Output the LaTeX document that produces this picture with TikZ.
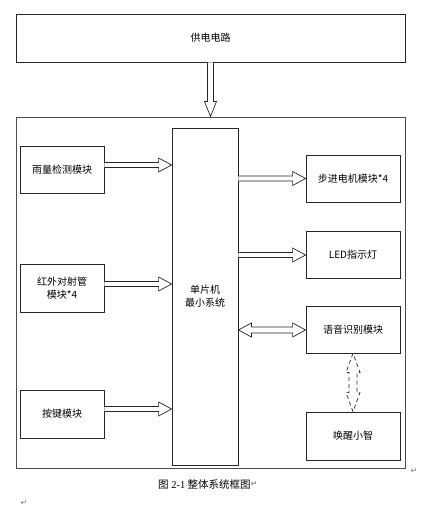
\documentclass[tikz,border=0pt]{standalone}
\usepackage{fontspec}
\setmainfont{Liberation Serif}
\newfontfamily\cjk{Noto Sans CJK SC}
\newfontfamily\symf{DejaVu Sans}
\usetikzlibrary{calc}
\tikzset{
  blk/.style={draw=black!85, line width=0.8pt, fill=white, inner sep=0pt, align=center,
    font=\cjk\fontsize{10}{13}\selectfont},
  hollow/.style={draw=black!85, line width=0.7pt, fill=white, line join=miter},
  dhollow/.style={hollow, dashed, dash pattern=on 4pt off 3pt},
  pmark/.style={text=black!55, font=\symf\fontsize{8}{8}\selectfont, inner sep=0pt}
}
% horizontal hollow arrow from #1 to #2 (same y)
\newcommand\hharrow[3][hollow]{%
  \draw[#1] ($(#2)+(0,-2.5)$) -- ($(#3)+(-13,-2.5)$) -- ($(#3)+(-13,-7)$) -- (#3)
    -- ($(#3)+(-13,7)$) -- ($(#3)+(-13,2.5)$) -- ($(#2)+(0,2.5)$);}
\begin{document}
\begin{tikzpicture}[x=1pt,y=-1pt]
\useasboundingbox (0,0) rectangle (430,514);
% power box
\node[blk, minimum width=389pt, minimum height=48pt] (pwr) at (210.5,38) {供电电路};
% outer system frame
\node[draw=black!70, line width=1pt, minimum width=389pt, minimum height=351pt, inner sep=0pt] (sys) at (210.5,292.5) {};
% MCU
\node[blk, minimum width=66pt, minimum height=337pt] (mcu) at (205,296.5) {单片机\\最小系统};
% left modules
\node[blk, minimum width=84pt, minimum height=47pt] (rain) at (62,169.5) {雨量检测模块};
\node[blk, minimum width=84pt, minimum height=48pt] (ir) at (62,288) {红外对射管\\模块*4};
\node[blk, minimum width=84pt, minimum height=48pt] (key) at (62,414) {按键模块};
% right modules
\node[blk, minimum width=94pt, minimum height=47pt] (step) at (353,178.5) {步进电机模块*4};
\node[blk, minimum width=94pt, minimum height=47pt] (led) at (353,254.5) {LED指示灯};
\node[blk, minimum width=94pt, minimum height=47pt] (voice) at (353,329.5) {语音识别模块};
\node[blk, minimum width=94pt, minimum height=48pt] (wake) at (353,436) {唤醒小智};
% power arrow (vertical)
\coordinate (pa) at (pwr.south);
\coordinate (pb) at (sys.north -| pwr.south);
\draw[hollow] ($(pa)+(-3,0)$) -- ($(pb)+(-3,-15)$) -- ($(pb)+(-6,-15)$) -- (pb)
  -- ($(pb)+(6,-15)$) -- ($(pb)+(3,-15)$) -- ($(pa)+(3,0)$);
% left arrows
\coordinate (r1) at ($(rain.east)+(0,-4.5)$);
\coordinate (r2) at (mcu.west |- r1);
\hharrow{r1}{r2}
\coordinate (i1) at ($(ir.east)+(0,-4)$);
\coordinate (i2) at (mcu.west |- i1);
\hharrow{i1}{i2}
\coordinate (k1) at ($(key.east)+(0,-5)$);
\coordinate (k2) at (mcu.west |- k1);
\hharrow{k1}{k2}
% right arrows
\coordinate (s2) at (step.west);
\coordinate (s1) at (mcu.east |- s2);
\hharrow{s1}{s2}
\coordinate (l2) at ($(led.west)+(0,0.5)$);
\coordinate (l1) at (mcu.east |- l2);
\hharrow{l1}{l2}
% double arrow MCU <-> voice
\coordinate (v2) at ($(voice.west)+(0,0.5)$);
\coordinate (v1) at (mcu.east |- v2);
\draw[hollow] (v1) -- ($(v1)+(13,-7)$) -- ($(v1)+(13,-3)$) -- ($(v2)+(-13,-3)$) -- ($(v2)+(-13,-7)$)
  -- (v2) -- ($(v2)+(-13,7)$) -- ($(v2)+(-13,3)$) -- ($(v1)+(13,3)$) -- ($(v1)+(13,7)$) -- cycle;
% dashed double arrow voice <-> wake
\coordinate (w1) at (voice.south);
\coordinate (w2) at (wake.north);
\draw[dhollow] (w1) -- ($(w1)+(-7,19)$) -- ($(w1)+(-4,19)$) -- ($(w2)+(-4,-19)$) -- ($(w2)+(-7,-19)$)
  -- (w2) -- ($(w2)+(7,-19)$) -- ($(w2)+(4,-19)$) -- ($(w1)+(4,19)$) -- ($(w1)+(7,19)$) -- cycle;
% caption
\node[font=\fontsize{10.5}{12}\selectfont, inner sep=0pt, anchor=west] (cap) at (158,484)
  {{\cjk 图} 2-1{\symf\fontsize{7}{7}\selectfont\color{black!60}·}{\cjk 整体系统框图}};
\node[pmark, anchor=west] (m1) at (cap.east) {↵};
\node[pmark] (m2) at (414,471) {↵};
\node[pmark] (m3) at (24,503) {↵};
\end{tikzpicture}
\end{document}
